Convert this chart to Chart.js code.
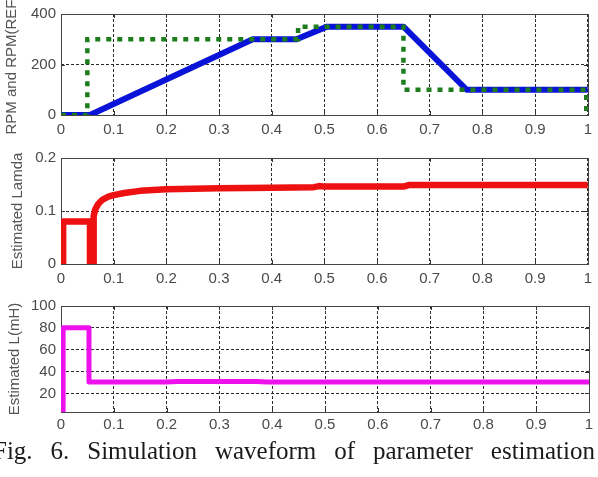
<!DOCTYPE html>
<html><head><meta charset="utf-8">
<script src="https://cdn.jsdelivr.net/npm/chart.js@4.4.0/dist/chart.umd.min.js"></script>
<style>
html,body{margin:0;padding:0;background:#fff;overflow:hidden;width:598px;height:477px;position:relative}
canvas{position:absolute;left:0}
#cap{position:absolute;left:-7px;width:602px;top:437px;font-family:'Liberation Serif','Times New Roman',serif;font-size:25px;line-height:28px;color:#1a1a1a;text-align:justify;text-align-last:justify}
</style></head><body>
<canvas id="c1" width="598" height="145" style="top:0px"></canvas>
<canvas id="c2" width="598" height="155" style="top:140px"></canvas>
<canvas id="c3" width="598" height="145" style="top:290px"></canvas>
<div id="cap">Fig. 6. Simulation waveform of parameter estimation</div>
<script>
// ---- data ----
const xTickValues = [0,0.1,0.2,0.3,0.4,0.5,0.6,0.7,0.8,0.9,1];
const xTickLabels = ['0','0.1','0.2','0.3','0.4','0.5','0.6','0.7','0.8','0.9','1'];

const rpmTime  = [0, 0.055, 0.364, 0.447, 0.505, 0.65, 0.77, 1];
const rpmValue = [0, 0, 300, 300, 350, 350, 100, 100];
const refTime  = [0, 0.05, 0.05, 0.45, 0.45, 0.65, 0.65, 0.997, 0.997];
const refValue = [0, 0, 300, 300, 350, 350, 100, 100, 0];
const rpmTickValues = [0, 200, 400];
const rpmTickLabels = ['0', '200', '400'];

const lambdaTime  = [0.004,0.004,0.055,0.055,0.062,0.062,0.065,0.07,0.075,0.08,0.09,0.1,0.12,0.15,0.2,0.3,0.4,0.48,0.49,0.5,0.65,0.66,0.67,1];
const lambdaValue = [0,0.08,0.08,0,0,0.09,0.103,0.112,0.118,0.122,0.127,0.130,0.134,0.138,0.141,0.143,0.144,0.145,0.147,0.146,0.146,0.149,0.149,0.149];
const lambdaTickValues = [0, 0.1, 0.2];
const lambdaTickLabels = ['0', '0.1', '0.2'];

const indTime  = [0.004,0.004,0.053,0.053,0.2,0.22,0.37,0.39,1];
const indValue = [3,80,80,30.5,30.5,31,31,30.5,30.5];
const indTickValues = [20, 40, 60, 80, 100];
const indTickLabels = ['20', '40', '60', '80', '100'];

// ---- helpers ----
const pts = (xs, ys) => xs.map((x, i) => ({x, y: ys[i]}));
const SANS = "'Liberation Sans', Arial, sans-serif";

const framePlugin = {
  id: 'frame',
  beforeDatasetsDraw(chart) {
    const {ctx, chartArea: a, scales: {x, y}} = chart;
    ctx.save();
    ctx.setLineDash([]);
    ctx.strokeStyle = '#333';
    ctx.lineWidth = 1;
    ctx.beginPath();
    x.ticks.forEach(t => {
      const px = Math.round(x.getPixelForValue(t.value)) + 0.5;
      ctx.moveTo(px, a.bottom); ctx.lineTo(px, a.bottom - 4);
      ctx.moveTo(px, a.top); ctx.lineTo(px, a.top + 4);
    });
    y.ticks.forEach(t => {
      const py = Math.round(y.getPixelForValue(t.value)) + 0.5;
      ctx.moveTo(a.left, py); ctx.lineTo(a.left + 4, py);
      ctx.moveTo(a.right, py); ctx.lineTo(a.right - 4, py);
    });
    ctx.stroke();
    ctx.strokeStyle = '#444';
    ctx.strokeRect(Math.round(a.left) + 0.5, Math.round(a.top) + 0.5, Math.round(a.right - a.left), Math.round(a.bottom - a.top));
    ctx.restore();
  }
};

function makeChart(id, c) {
  return new Chart(document.getElementById(id), {
    type: 'line',
    data: {datasets: c.datasets},
    options: {
      responsive: false, animation: false, devicePixelRatio: 1,
      layout: {padding: {top: c.padTop, right: 9, left: 0, bottom: 0}},
      plugins: {legend: {display: false}, tooltip: {enabled: false}},
      elements: {point: {radius: 0}, line: {tension: 0}},
      scales: {
        x: {
          type: 'linear', min: 0, max: 1,
          afterBuildTicks: s => { s.ticks = xTickValues.map(v => ({value: v})); },
          afterFit: s => { s.height = c.xh; },
          ticks: {callback: (v, i) => xTickLabels[i], maxRotation: 0, autoSkip: false, padding: c.xPad, color: '#4a4a4a', font: {family: SANS, size: 15}},
          grid: {color: '#2a2a2a', drawTicks: false, lineWidth: 1},
          border: {display: false, dash: [3, 2]}
        },
        y: {
          type: 'linear', min: c.yMin, max: c.yMax,
          afterBuildTicks: s => { s.ticks = c.yTicks.map(v => ({value: v})); },
          afterFit: s => { s.width = 61; },
          ticks: {callback: (v, i) => c.yLabels[i], padding: 5, color: '#4a4a4a', font: {family: SANS, size: 15}},
          grid: {color: '#2a2a2a', drawTicks: false, lineWidth: 1},
          border: {display: false, dash: [3, 2]},
          title: {display: true, text: c.title, color: '#555', font: {family: SANS, size: 15}, padding: {top: c.titlePad, bottom: 0}}
        }
      }
    },
    plugins: [framePlugin]
  });
}

makeChart('c1', {
  padTop: 13, xh: 30, xPad: 6, yMin: 0, yMax: 400,
  yTicks: rpmTickValues, yLabels: rpmTickLabels, title: 'RPM and RPM(REF)', titlePad: 2.5,
  datasets: [
    {data: pts(refTime, refValue), borderColor: '#1d7d1d', borderWidth: 4.5, borderDash: [5, 6], order: 0, borderJoinStyle: 'miter'},
    {data: pts(rpmTime, rpmValue), borderColor: '#0a14d8', borderWidth: 6, order: 1, borderJoinStyle: 'round'}
  ]
});

makeChart('c2', {
  padTop: 18, xh: 31, xPad: 6, yMin: 0, yMax: 0.2,
  yTicks: lambdaTickValues, yLabels: lambdaTickLabels, title: 'Estimated Lamda', titlePad: 9,
  datasets: [
    {data: pts(lambdaTime, lambdaValue), borderColor: '#ee1111', borderWidth: 6.5, borderJoinStyle: 'round'}
  ]
});

makeChart('c3', {
  padTop: 16, xh: 23, xPad: 4, yMin: 3, yMax: 100,
  yTicks: indTickValues, yLabels: indTickLabels, title: 'Estimated L(mH)', titlePad: 5.5,
  datasets: [
    {data: pts(indTime, indValue), borderColor: '#ee11ee', borderWidth: 5, borderJoinStyle: 'round'}
  ]
});
</script>
</body></html>
